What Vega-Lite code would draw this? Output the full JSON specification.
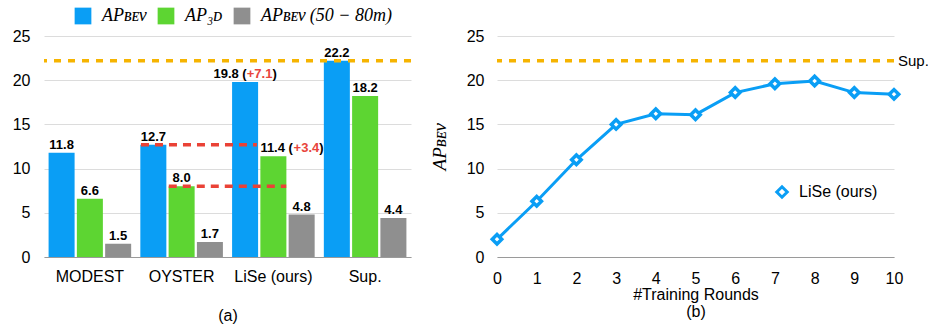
{
  "$schema": "https://vega.github.io/schema/vega-lite/v6.json",
  "padding": {"left": 12, "top": 7, "right": 2, "bottom": 3},
  "spacing": 17,
  "align": "none",
  "config": {
    "view": {"stroke": null},
    "font": "Liberation Sans",
    "axis": {
      "labelFont": "Liberation Sans",
      "labelFontSize": 16,
      "labelColor": "#000000",
      "titleFont": "Liberation Sans",
      "titleFontSize": 16,
      "titleFontWeight": "normal",
      "titleColor": "#000000",
      "gridColor": "#dcdcdc",
      "gridWidth": 1,
      "ticks": false,
      "domain": false,
      "labelFlush": false,
      "labelOverlap": false
    }
  },
  "datasets": {
    "bars": [
      {"group": "MODEST", "metric": "APʙᴇᴠ", "value": 11.8},
      {"group": "MODEST", "metric": "AP₃ᴅ", "value": 6.6},
      {"group": "MODEST", "metric": "APʙᴇᴠ (50 − 80m)", "value": 1.5},
      {"group": "OYSTER", "metric": "APʙᴇᴠ", "value": 12.7},
      {"group": "OYSTER", "metric": "AP₃ᴅ", "value": 8.0},
      {"group": "OYSTER", "metric": "APʙᴇᴠ (50 − 80m)", "value": 1.7},
      {"group": "LiSe (ours)", "metric": "APʙᴇᴠ", "value": 19.8},
      {"group": "LiSe (ours)", "metric": "AP₃ᴅ", "value": 11.4},
      {"group": "LiSe (ours)", "metric": "APʙᴇᴠ (50 − 80m)", "value": 4.8},
      {"group": "Sup.", "metric": "APʙᴇᴠ", "value": 22.2},
      {"group": "Sup.", "metric": "AP₃ᴅ", "value": 18.2},
      {"group": "Sup.", "metric": "APʙᴇᴠ (50 − 80m)", "value": 4.4}
    ],
    "notes": [
      {"group": "LiSe (ours)", "metric": "APʙᴇᴠ", "value": 19.8, "head": "19.8 (", "gain": "+7.1", "tail": ")"},
      {"group": "LiSe (ours)", "metric": "AP₃ᴅ", "value": 11.4, "head": "11.4 (", "gain": "+3.4", "tail": ")"}
    ],
    "gaps": [
      {"from": 1.057, "to": 2.32, "level": 12.7},
      {"from": 1.36, "to": 2.64, "level": 8.0}
    ],
    "rounds": [
      {"round": 0, "ap": 2.0},
      {"round": 1, "ap": 6.3},
      {"round": 2, "ap": 11.0},
      {"round": 3, "ap": 15.0},
      {"round": 4, "ap": 16.2},
      {"round": 5, "ap": 16.1},
      {"round": 6, "ap": 18.6},
      {"round": 7, "ap": 19.6},
      {"round": 8, "ap": 19.9},
      {"round": 9, "ap": 18.6},
      {"round": 10, "ap": 18.4}
    ],
    "sup": [{"ref": 22.2, "round": 10, "name": "Sup."}]
  },
  "resolve": {"scale": {"color": "independent"}, "legend": {"color": "independent"}},
  "hconcat": [
    {
      "width": 367,
      "height": 221,
      "resolve": {"scale": {"x": "independent"}},
      "layer": [
        {
          "encoding": {
            "x": {"field": "group", "type": "nominal", "sort": ["MODEST", "OYSTER", "LiSe (ours)", "Sup."],
              "scale": {"domain": ["MODEST", "OYSTER", "LiSe (ours)", "Sup."], "paddingInner": 0.1, "paddingOuter": 0.05},
              "axis": {"title": "(a)", "labelAngle": 0, "labelPadding": 11, "titlePadding": 23, "domain": true, "domainColor": "#9a9a9a", "domainWidth": 1.2}},
            "xOffset": {"field": "metric", "type": "nominal", "sort": ["APʙᴇᴠ", "AP₃ᴅ", "APʙᴇᴠ (50 − 80m)"],
              "scale": {"domain": ["APʙᴇᴠ", "AP₃ᴅ", "APʙᴇᴠ (50 − 80m)"], "paddingInner": 0.08, "paddingOuter": 0}},
            "y": {"field": "value", "type": "quantitative", "scale": {"domain": [0, 25], "nice": false},
              "axis": {"values": [0, 5, 10, 15, 20, 25], "title": null, "labelPadding": 14}}
          },
          "layer": [
            {
              "data": {"name": "bars"},
              "mark": {"type": "bar"},
              "encoding": {
                "color": {"field": "metric", "type": "nominal",
                  "scale": {"domain": ["APʙᴇᴠ", "AP₃ᴅ", "APʙᴇᴠ (50 − 80m)"], "range": ["#0a9ef5", "#5dd532", "#8f8f8f"]},
                  "legend": {"orient": "none", "legendX": 30, "legendY": -29, "direction": "horizontal", "title": null,
                    "symbolType": "square", "symbolSize": 280, "symbolStrokeWidth": 0, "labelFont": "Liberation Serif",
                    "labelFontStyle": "italic", "labelFontSize": 18, "labelColor": "#000000", "labelOffset": 10, "columnPadding": 10, "labelLimit": 300}}
              }
            },
            {
              "data": {"name": "bars"},
              "transform": [{"filter": "datum.group !== 'LiSe (ours)' || datum.value < 5"}],
              "mark": {"type": "text", "fontWeight": "bold", "fontSize": 13, "baseline": "alphabetic", "dy": -4, "color": "#000000"},
              "encoding": {"text": {"field": "value", "type": "quantitative", "format": ".1f"}}
            },
            {
              "data": {"name": "sup"},
              "mark": {"type": "rule", "color": "#f6b400", "strokeWidth": 3.5, "strokeDash": [7, 7]},
              "encoding": {"x": null, "xOffset": null, "y": {"field": "ref", "type": "quantitative", "scale": {"domain": [0, 25], "nice": false}}}
            },
            {
              "data": {"name": "notes"},
              "transform": [{"filter": "datum.value > 15"}],
              "mark": {"type": "text", "fontWeight": "bold", "fontSize": 13, "baseline": "alphabetic", "dy": -4, "align": "right", "dx": 1.6, "color": "#000000"},
              "encoding": {"text": {"field": "head"}}
            },
            {
              "data": {"name": "notes"},
              "transform": [{"filter": "datum.value > 15"}],
              "mark": {"type": "text", "fontWeight": "bold", "fontSize": 13, "baseline": "alphabetic", "dy": -4, "align": "left", "dx": 1.6, "color": "#e8453c"},
              "encoding": {"text": {"field": "gain"}}
            },
            {
              "data": {"name": "notes"},
              "transform": [{"filter": "datum.value > 15"}],
              "mark": {"type": "text", "fontWeight": "bold", "fontSize": 13, "baseline": "alphabetic", "dy": -4, "align": "left", "dx": 27.3, "color": "#000000"},
              "encoding": {"text": {"field": "tail"}}
            },
            {
              "data": {"name": "notes"},
              "transform": [{"filter": "datum.value < 15"}],
              "mark": {"type": "text", "fontWeight": "bold", "fontSize": 13, "baseline": "alphabetic", "dy": -4, "align": "left", "dx": -13, "color": "#000000"},
              "encoding": {"text": {"field": "head"}}
            },
            {
              "data": {"name": "notes"},
              "transform": [{"filter": "datum.value < 15"}],
              "mark": {"type": "text", "fontWeight": "bold", "fontSize": 13, "baseline": "alphabetic", "dy": -4, "align": "left", "dx": 20.2, "color": "#e8453c"},
              "encoding": {"text": {"field": "gain"}}
            },
            {
              "data": {"name": "notes"},
              "transform": [{"filter": "datum.value < 15"}],
              "mark": {"type": "text", "fontWeight": "bold", "fontSize": 13, "baseline": "alphabetic", "dy": -4, "align": "left", "dx": 45.9, "color": "#000000"},
              "encoding": {"text": {"field": "tail"}}
            }
          ]
        },
        {
          "data": {"name": "gaps"},
          "mark": {"type": "rule", "color": "#ea4236", "strokeWidth": 3.5, "strokeDash": [8, 6]},
          "encoding": {
            "x": {"field": "from", "type": "quantitative", "scale": {"domain": [0, 4], "nice": false}, "axis": null},
            "x2": {"field": "to"},
            "y": {"field": "level", "type": "quantitative", "scale": {"domain": [0, 25], "nice": false}}
          }
        }
      ]
    },
    {
      "width": 397,
      "height": 221,
      "encoding": {
        "x": {"field": "round", "type": "quantitative", "scale": {"domain": [0, 10], "nice": false},
          "axis": {"values": [0, 1, 2, 3, 4, 5, 6, 7, 8, 9, 10], "tickCount": 11, "grid": false, "labelPadding": 13, "labelOverlap": false, "labelFlush": false,
            "domain": true, "domainColor": "#9a9a9a", "domainWidth": 1.2,
            "title": ["#Training Rounds", "(b)"], "titlePadding": 0, "titleLineHeight": 17}},
        "y": {"field": "ap", "type": "quantitative", "scale": {"domain": [0, 25], "nice": false},
          "axis": {"values": [0, 5, 10, 15, 20, 25], "labelPadding": 13, "title": "APʙᴇᴠ", "titleFont": "Liberation Serif",
            "titleFontStyle": "italic", "titleFontSize": 19, "titlePadding": 17}}
      },
      "layer": [
        {
          "data": {"name": "sup"},
          "mark": {"type": "rule", "color": "#f6b400", "strokeWidth": 3.5, "strokeDash": [7, 7]},
          "encoding": {"x": null, "y": {"field": "ref", "type": "quantitative"}}
        },
        {
          "data": {"name": "sup"},
          "mark": {"type": "text", "align": "left", "baseline": "middle", "dx": 4, "fontSize": 15, "color": "#000000"},
          "encoding": {"y": {"field": "ref", "type": "quantitative"}, "text": {"field": "name"}}
        },
        {
          "data": {"name": "rounds"},
          "mark": {"type": "line", "color": "#0a9ef5", "strokeWidth": 3}
        },
        {
          "data": {"name": "rounds"},
          "mark": {"type": "point", "shape": "diamond", "filled": false, "fill": "#ffffff", "strokeWidth": 3.5, "size": 90, "opacity": 1},
          "encoding": {
            "color": {"datum": "LiSe (ours)", "type": "nominal", "scale": {"range": ["#0a9ef5"]},
              "legend": {"orient": "none", "legendX": 277, "legendY": 148, "title": null, "labelFontSize": 16, "labelFont": "Liberation Sans",
                "labelColor": "#000000", "symbolSize": 110, "symbolStrokeWidth": 3, "symbolFillColor": "#ffffff", "labelOffset": 9}}
          }
        }
      ]
    }
  ]
}
